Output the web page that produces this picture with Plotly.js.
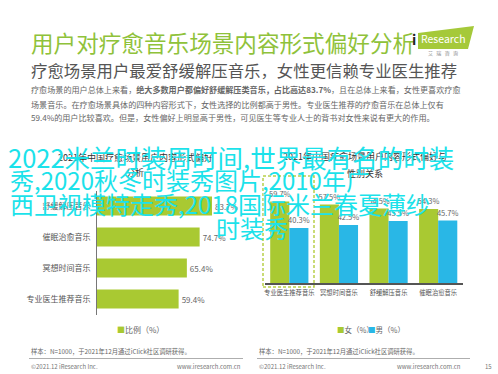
<!DOCTYPE html>
<html>
<head>
<meta charset="utf-8">
<script src="https://cdn.plot.ly/plotly-3.0.1.min.js"></script>
<style>html,body{margin:0;padding:0;background:#fff;}#chart{width:498px;height:374px;}</style>
</head>
<body>
<div id="chart"></div>
<script>
// ---- data ----
const overallCategories = ['舒缓解压音乐', '催眠治愈音乐', '冥想时间音乐', '专业医生推荐音乐'];
const overallValues = [83.7, 74.7, 65.4, 59.4];
const genderCategories = ['专业医生推荐音乐', '冥想时间音乐', '舒缓解压音乐', '催眠治愈音乐'];
const femaleValues = [59.7, 57.5, 54.5, 54.3];
const maleValues = [40.3, 42.5, 45.5, 45.7];
const overallSeriesName = '比例（%）';
const femaleSeriesName = '女（%）';
const maleSeriesName = '男（%）';

// ---- layout helpers ----
const W = 498, H = 374;
const X = p => p / W;
const Y = p => 1 - p / H;
const GREEN = '#A9C932', BLUE = '#29B7E6', CYAN = '#1BE2EA';
const FONT = '"Noto Sans CJK SC", "Noto Sans", sans-serif';

function ann(text, x, y, o) {
  o = o || {};
  return Object.assign({
    text: text, xref: 'paper', yref: 'paper', x: X(x), y: Y(y),
    xanchor: o.xanchor || 'left', yanchor: 'middle', showarrow: false,
    font: { family: FONT, size: o.size || 8, color: o.color || '#555' }
  }, o.extra || {});
}

const traces = [
  {
    type: 'bar', orientation: 'h', name: overallSeriesName,
    y: overallCategories, x: overallValues,
    xaxis: 'x', yaxis: 'y', width: 0.62,
    marker: { color: GREEN },
    texttemplate: '%{x:.1f}%', textposition: 'outside', cliponaxis: false,
    constraintext: 'none',
    textfont: { family: FONT, size: 8, color: '#666' }, hoverinfo: 'none'
  },
  {
    type: 'bar', name: femaleSeriesName,
    x: genderCategories, y: femaleValues, xaxis: 'x2', yaxis: 'y2',
    marker: { color: GREEN },
    texttemplate: '%{y:.1f}%', textposition: 'outside', cliponaxis: false,
    constraintext: 'none',
    textfont: { family: FONT, size: 7.5, color: '#666' }, hoverinfo: 'none'
  },
  {
    type: 'bar', name: maleSeriesName,
    x: genderCategories, y: maleValues, xaxis: 'x2', yaxis: 'y2',
    marker: { color: BLUE },
    texttemplate: '%{y:.1f}%', textposition: 'outside', cliponaxis: false,
    constraintext: 'none',
    textfont: { family: FONT, size: 7.5, color: '#666' }, hoverinfo: 'none'
  }
];

const annotations = [
  // page title and subtitle
  ann('用户对疗愈音乐场景内容形式偏好分析', 29, 42, { size: 22.6, color: '#8FC23A' }),
  ann('疗愈场景用户最爱舒缓解压音乐，女性更信赖专业医生推荐', 29, 70, { size: 16.4, color: '#555' }),
  ann('疗愈场景的用户总体上来看，<b>绝大多数用户都偏好舒缓解压类音乐，占比高达83.7%</b>，且在总体上来看，女性更喜欢疗愈', 29, 89, { size: 8.1, color: '#666' }),
  ann('场景音乐。在疗愈场景具体的四种内容形式下，女性选择的比例都高于男性。专业医生推荐的疗愈音乐在总体上仅有', 29, 104, { size: 8.1, color: '#666' }),
  ann('59.4%的用户比较喜欢。但是，女性偏好上明显高于男性，可见医生等专业人士的背书对女性来说有更大的作用。', 29, 118, { size: 8.1, color: '#666' }),
  // logo
  ann('<b>i</b>', 414, 39, { size: 14, color: '#222', xanchor: 'center' }),
  ann('Research', 443, 39, { size: 10.5, color: '#fff', xanchor: 'center' }),
  ann('艾   瑞   咨   询', 443, 53, { size: 5, color: '#888', xanchor: 'center' }),
  // chart titles
  ann('2021年中国疗愈场景用户内容形式偏好', 135, 157, { size: 9, color: '#333', xanchor: 'center' }),
  ann('分析', 135, 172, { size: 9, color: '#333', xanchor: 'center' }),
  ann('2021年中国疗愈场景用户内容形式偏好与', 365, 156, { size: 9, color: '#333', xanchor: 'center' }),
  ann('性别关系', 365, 173, { size: 9, color: '#333', xanchor: 'center' }),
  // legends
  ann('<span style="color:' + GREEN + '">■</span>' + overallSeriesName, 115, 329, { size: 8, color: '#666' }),
  ann('<span style="color:' + GREEN + '">■</span>' + femaleSeriesName, 335, 329, { size: 7.5, color: '#666' }),
  ann('<span style="color:' + BLUE + '">■</span>' + maleSeriesName, 366, 329, { size: 7.5, color: '#666' }),
  // footers
  ann('样本：N=1000，于2021年12月通过iClick社区调研获得。', 29, 351, { size: 6.3, color: '#666' }),
  ann('样本：N=1000，于2021年12月通过iClick社区调研获得。', 257, 351, { size: 6.3, color: '#666' }),
  ann('©2021.12 iResearch Inc.', 29, 366, { size: 6, color: '#777' }),
  ann('www.iresearch.com.cn', 243, 366, { size: 6, color: '#777', xanchor: 'right' }),
  ann('©2021.12 iResearch Inc.', 257, 366, { size: 6, color: '#777' }),
  ann('www.iresearch.com.cn', 463, 366, { size: 6, color: '#777', xanchor: 'right' }),
  ann('15', 488, 366, { size: 6, color: '#777', xanchor: 'center' }),
  // cyan overlay text
  ann('2022米兰时装周时间,世界最有名的时装', 6, 156, { size: 25.5, color: CYAN }),
  ann('秀,2020秋冬时装秀图片,2010年广', 8, 180, { size: 24, color: CYAN }),
  ann('西卫视模特走秀,2018国际米兰春夏薄纱', 8, 204, { size: 24, color: CYAN }),
  ann('时装秀', 214, 227, { size: 24, color: CYAN })
];

function path(pts) {
  return 'M' + pts.map(p => X(p[0]) + ',' + Y(p[1])).join('L') + 'Z';
}

const shapes = [
  { type: 'path', xref: 'paper', yref: 'paper', path: path([[418, 33], [474, 26], [468, 49], [418, 49]]),
    fillcolor: '#A5C93A', line: { width: 0 }, layer: 'below' },
  { type: 'rect', xref: 'paper', yref: 'paper', x0: X(263), x1: X(314), y0: Y(287), y1: Y(176),
    line: { color: '#B9D04A', width: 1.5, dash: '3px,2px' }, fillcolor: 'rgba(0,0,0,0)' },
  { type: 'line', xref: 'paper', yref: 'paper', x0: X(29), x1: X(243), y0: Y(358.5), y1: Y(358.5),
    line: { color: '#999', width: 0.8 } },
  { type: 'line', xref: 'paper', yref: 'paper', x0: X(257), x1: X(470), y0: Y(358.5), y1: Y(358.5),
    line: { color: '#999', width: 0.8 } }
];

const layout = {
  width: W, height: H,
  margin: { l: 0, r: 0, t: 0, b: 0, pad: 0 },
  paper_bgcolor: '#fff', plot_bgcolor: 'rgba(0,0,0,0)',
  font: { family: FONT, size: 8, color: '#555' },
  showlegend: false,
  barmode: 'group', bargap: 0.23, bargroupgap: 0,
  xaxis: { domain: [X(97), X(234.4)], range: [0, 100], anchor: 'y', visible: false, fixedrange: true },
  yaxis: { domain: [Y(314.5), Y(190.5)], anchor: 'x', type: 'category', autorange: 'reversed',
    showline: true, linecolor: '#777', linewidth: 1, ticks: '', showgrid: false, zeroline: false,
    tickfont: { family: FONT, size: 8, color: '#555' }, ticklabelstandoff: 4 },
  xaxis2: { domain: [X(264.5), X(463)], anchor: 'y2', type: 'category', tickangle: 0,
    showline: true, linecolor: '#555', linewidth: 1.5, ticks: '', showgrid: false, zeroline: false,
    tickfont: { family: FONT, size: 6.3, color: '#555' }, ticklabelstandoff: 3 },
  yaxis2: { domain: [Y(283), Y(146.5)], range: [0, 100], anchor: 'x2', visible: false },
  annotations: annotations,
  shapes: shapes
};

Plotly.newPlot('chart', traces, layout, { staticPlot: true, displayModeBar: false });
</script>
</body>
</html>
